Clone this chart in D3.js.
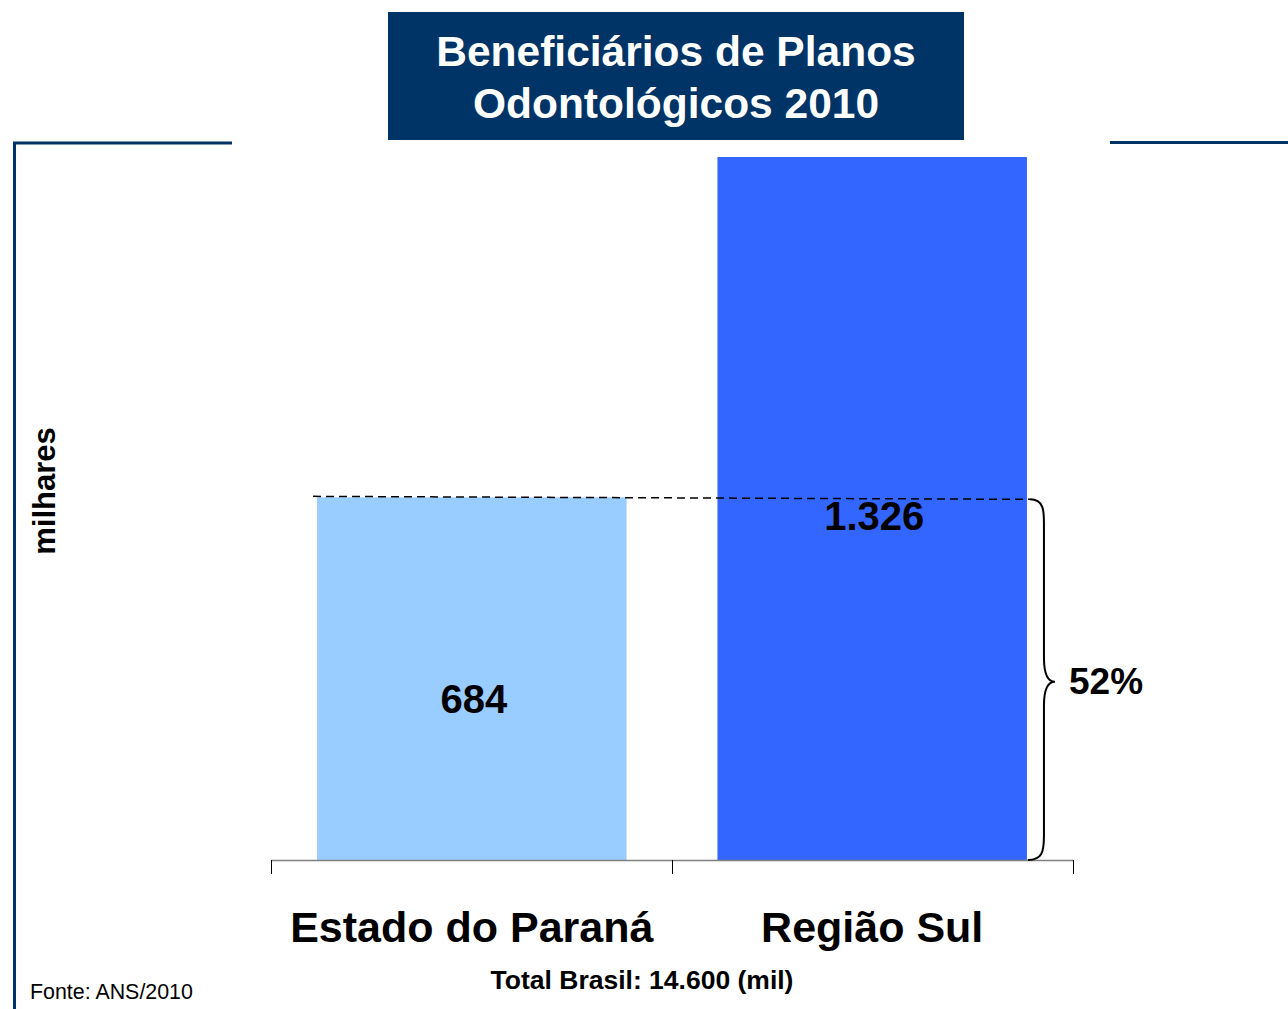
<!DOCTYPE html>
<html>
<head>
<meta charset="utf-8">
<script src="https://cdn.jsdelivr.net/npm/d3@7"></script>
<style>
  body { margin: 0; background: #fff; }
  svg { display: block; font-family: "Liberation Sans", Arial, sans-serif; }
</style>
</head>
<body>
<div id="chart"></div>
<script>
// chart data
const categories = ["Estado do Paraná", "Região Sul"];
const values = [684, 1326];
const valueLabels = ["684", "1.326"];
const barColors = ["#99ccff", "#3366ff"];
const shareLabel = "52%";
const titleLines = ["Beneficiários de Planos", "Odontológicos 2010"];

const width = 1288, height = 1009;

const svg = d3.select("#chart").append("svg")
    .attr("width", width)
    .attr("height", height);

// scales
const x = d3.scaleBand()
    .domain(categories)
    .range([271, 1073])
    .paddingInner(0.227)
    .paddingOuter(0.115);

const y = d3.scaleLinear()
    .domain([0, 1326])
    .range([860, 157]);

// frame lines
const navy = "#003366";
svg.append("path")
    .attr("d", "M14.5,1009 V143 H232")
    .attr("fill", "none")
    .attr("stroke", navy)
    .attr("stroke-width", 3);
svg.append("line")
    .attr("x1", 1110).attr("x2", 1288)
    .attr("y1", 142.5).attr("y2", 142.5)
    .attr("stroke", navy)
    .attr("stroke-width", 3);

// title box
svg.append("rect")
    .attr("x", 388).attr("y", 12)
    .attr("width", 576).attr("height", 128)
    .attr("fill", navy);
svg.selectAll(".title")
    .data(titleLines)
    .enter()
    .append("text")
    .attr("class", "title")
    .attr("x", 676)
    .attr("y", (d, i) => 66 + i * 52)
    .attr("text-anchor", "middle")
    .attr("fill", "#fff")
    .attr("font-weight", "bold")
    .attr("font-size", "42.5px")
    .text(d => d);

// bars
svg.selectAll(".bar")
    .data(categories)
    .enter()
    .append("rect")
    .attr("class", "bar")
    .attr("x", d => x(d))
    .attr("y", (d, i) => y(values[i]))
    .attr("width", x.bandwidth())
    .attr("height", (d, i) => y(0) - y(values[i]))
    .attr("fill", (d, i) => barColors[i]);

// baseline + ticks
svg.append("line")
    .attr("x1", 271).attr("x2", 1073)
    .attr("y1", 860.5).attr("y2", 860.5)
    .attr("stroke", "#808080")
    .attr("stroke-width", 1.5);
const tickX = [271, 672, 1073];
svg.selectAll(".tick")
    .data(tickX)
    .enter()
    .append("line")
    .attr("class", "tick")
    .attr("x1", d => d + 0.5).attr("x2", d => d + 0.5)
    .attr("y1", 860).attr("y2", 874)
    .attr("stroke", "#000")
    .attr("stroke-width", 1);

// category labels
svg.selectAll(".cat")
    .data(categories)
    .enter()
    .append("text")
    .attr("class", "cat")
    .attr("x", d => x(d) + x.bandwidth() / 2)
    .attr("y", 942)
    .attr("text-anchor", "middle")
    .attr("font-weight", "bold")
    .attr("font-size", "43px")
    .attr("fill", "#000")
    .text(d => d);

// value labels
const labelY = [713, 530];
svg.selectAll(".val")
    .data(valueLabels)
    .enter()
    .append("text")
    .attr("class", "val")
    .attr("x", (d, i) => x(categories[i]) + x.bandwidth() / 2 + 2)
    .attr("y", (d, i) => labelY[i])
    .attr("text-anchor", "middle")
    .attr("font-weight", "bold")
    .attr("font-size", "40px")
    .attr("fill", "#000")
    .text(d => d);

// dashed reference line from Paraná top across to Região Sul bar
const xEnd = x(categories[1]) + x.bandwidth();
svg.append("line")
    .attr("x1", x(categories[0]) - 4).attr("y1", y(values[0]) - 1)
    .attr("x2", xEnd + 3).attr("y2", y(values[0]) + 2)
    .attr("stroke", "#000")
    .attr("stroke-width", 1.5)
    .attr("stroke-dasharray", "8,5");

// brace
const bTop = y(values[0]) + 2, bBot = y(0), bMid = (bTop + bBot) / 2 + 2;
const bx = xEnd + 3, bw = 14, tip = 25;
const brace = `M${bx},${bTop}
  C${bx + bw},${bTop} ${bx + bw},${bTop + 12} ${bx + bw},${bTop + 24}
  L${bx + bw},${bMid - 24}
  C${bx + bw},${bMid - 8} ${bx + bw + 4},${bMid} ${bx + tip},${bMid}
  C${bx + bw + 4},${bMid} ${bx + bw},${bMid + 8} ${bx + bw},${bMid + 24}
  L${bx + bw},${bBot - 24}
  C${bx + bw},${bBot - 8} ${bx + bw - 2},${bBot} ${bx - 2},${bBot}`;
svg.append("path")
    .attr("d", brace)
    .attr("fill", "none")
    .attr("stroke", "#000")
    .attr("stroke-width", 2);

svg.append("text")
    .attr("x", 1069)
    .attr("y", 694)
    .attr("font-weight", "bold")
    .attr("font-size", "37px")
    .attr("fill", "#000")
    .text(shareLabel);

// axis title
svg.append("text")
    .attr("transform", "translate(55,491) rotate(-90)")
    .attr("text-anchor", "middle")
    .attr("font-weight", "bold")
    .attr("font-size", "31px")
    .attr("fill", "#000")
    .text("milhares");

// footer
svg.append("text")
    .attr("x", 642)
    .attr("y", 989)
    .attr("text-anchor", "middle")
    .attr("font-weight", "bold")
    .attr("font-size", "26.5px")
    .attr("fill", "#000")
    .text("Total Brasil: 14.600 (mil)");

svg.append("text")
    .attr("x", 30)
    .attr("y", 999)
    .attr("font-size", "21.4px")
    .attr("fill", "#000")
    .text("Fonte: ANS/2010");
</script>
</body>
</html>
